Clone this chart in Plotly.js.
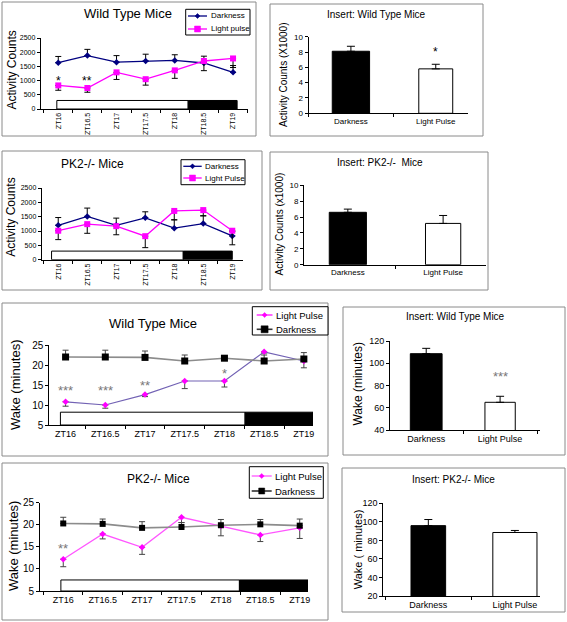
<!DOCTYPE html>
<html>
<head>
<meta charset="utf-8">
<script src="https://cdn.plot.ly/plotly-3.0.1.min.js"></script>
<style>html,body{margin:0;padding:0;background:#fff}#chart{width:567px;height:622px}</style>
</head>
<body>
<div id="chart"></div>
<script>
// ---------------- DATA ----------------
const zt = ['ZT16', 'ZT16.5', 'ZT17', 'ZT17.5', 'ZT18', 'ZT18.5', 'ZT19'];
const groups = ['Darkness', 'Light Pulse'];

// Activity counts, wild type
const wtActDark = [1630, 1880, 1650, 1690, 1710, 1620, 1290];
const wtActDarkErr = [220, 220, 230, 240, 200, 240, 240];
const wtActLight = [830, 740, 1290, 1050, 1360, 1690, 1780];
const wtActLightErr = [170, 150, 250, 210, 280, 340, 320];

// Activity counts, PK2-/-
const pk2ActDark = [1200, 1510, 1200, 1460, 1100, 1260, 830];
const pk2ActDarkErr = [270, 290, 250, 210, 290, 270, 150];
const pk2ActLight = [1010, 1240, 1170, 820, 1700, 1730, 1010];
const pk2ActLightErr = [310, 320, 300, 400, 310, 200, 490];

// Insert bars, activity (x1000)
const wtActBar = [8.1, 5.8];
const wtActBarErr = [0.65, 0.6];
const pk2ActBar = [6.6, 5.2];
const pk2ActBarErr = [0.4, 1.0];

// Wake minutes, wild type
const wtWakeDark = [22.0, 22.0, 21.9, 21.0, 21.7, 21.0, 21.5];
const wtWakeDarkErr = [1.7, 1.7, 1.6, 1.5, 0.3, 1.5, 1.6];
const wtWakeLight = [10.8, 10.0, 12.6, 16.0, 16.0, 23.3, 21.0];
const wtWakeLightErr = [1.1, 0.8, 0.5, 1.9, 1.5, 0.3, 1.7];

// Wake minutes, PK2-/-
const pk2WakeDark = [20.3, 20.2, 19.3, 19.5, 19.9, 20.1, 19.8];
const pk2WakeDarkErr = [1.4, 1.1, 1.4, 1.0, 1.3, 1.1, 1.5];
const pk2WakeLight = [12.2, 17.9, 14.9, 21.7, 19.7, 17.7, 19.3];
const pk2WakeLightErr = [1.7, 1.1, 1.6, 1.2, 2.2, 1.5, 2.4];

// Insert bars, wake minutes
const wtWakeBar = [108.6, 64.9];
const wtWakeBarErr = [4.8, 5.4];
const pk2WakeBar = [95.9, 88.5];
const pk2WakeBarErr = [6.6, 2.2];

// ---------------- LAYOUT HELPERS ----------------
const W = 567, H = 622;
const FONT = 'Liberation Sans, Arial, sans-serif';
const sfx = n => (n === 1 ? '' : String(n));
const PX = x => x / W, PY = y => 1 - y / H;
const layout = {
  width: W, height: H,
  margin: {l: 0, r: 0, t: 0, b: 0},
  paper_bgcolor: 'white', plot_bgcolor: 'rgba(0,0,0,0)',
  font: {family: FONT, color: 'black'},
  showlegend: false,
  shapes: [], annotations: []
};
const traces = [];

function catAxis(n, x0, x1, range, size, extra) {
  layout['xaxis' + sfx(n)] = Object.assign({
    domain: [PX(x0), PX(x1)], type: 'category', range: range,
    anchor: 'y' + sfx(n), showline: true, linecolor: 'black', linewidth: 1,
    ticks: 'outside', ticklen: 3, tickcolor: 'black', tickson: 'boundaries',
    showgrid: false, zeroline: false, fixedrange: true,
    tickfont: {size: size, color: 'black', family: FONT}
  }, extra || {});
}
function valAxis(n, top, bottom, range, dtick, size) {
  layout['yaxis' + sfx(n)] = {
    domain: [PY(bottom), PY(top)], range: range, dtick: dtick,
    anchor: 'x' + sfx(n), showline: true, linecolor: 'black', linewidth: 1,
    ticks: 'outside', ticklen: 3, tickcolor: 'black',
    showgrid: false, zeroline: false, fixedrange: true,
    tickfont: {size: size, color: 'black', family: FONT}
  };
}
function frame(x0, y0, x1, y1) {
  layout.shapes.push({type: 'rect', xref: 'paper', yref: 'paper', layer: 'below',
    x0: PX(x0), x1: PX(x1), y0: PY(y1), y1: PY(y0),
    line: {color: '#8a8a8a', width: 1}, fillcolor: 'rgba(0,0,0,0)'});
}
function label(text, x, y, size, extra) {
  layout.annotations.push(Object.assign({text: text, xref: 'paper', yref: 'paper',
    x: PX(x), y: PY(y), showarrow: false, xanchor: 'center', yanchor: 'middle',
    font: {size: size, family: FONT, color: 'black'}}, extra || {}));
}
function yTitle(text, x, y, size) { label(text, x, y, size, {textangle: -90}); }
function star(n, text, xi, yv, size, color) {
  layout.annotations.push({text: text, xref: 'x' + sfx(n), yref: 'y' + sfx(n),
    x: xi, y: yv, showarrow: false, xanchor: 'center', yanchor: 'middle',
    font: {size: size, family: FONT, color: color}});
}
function dayNight(n, a, b, c, top, base) {
  layout.shapes.push({type: 'rect', xref: 'x' + sfx(n), yref: 'y' + sfx(n), layer: 'below',
    x0: a, x1: b, y0: base, y1: top, fillcolor: 'white', line: {color: 'black', width: 1}});
  layout.shapes.push({type: 'rect', xref: 'x' + sfx(n), yref: 'y' + sfx(n), layer: 'below',
    x0: b, x1: c, y0: base, y1: top, fillcolor: 'black', line: {color: 'black', width: 1}});
}
function lineTrace(n, name, y, plus, minus, style) {
  traces.push({
    type: 'scatter', mode: 'lines+markers', name: name, x: zt, y: y,
    xaxis: 'x' + sfx(n), yaxis: 'y' + sfx(n), cliponaxis: false,
    line: {color: style.line, width: style.lw},
    marker: {symbol: style.symbol, size: style.size, color: style.marker},
    error_y: {type: 'data', symmetric: false, array: plus, arrayminus: minus,
      color: style.err, thickness: 1, width: 3}
  });
}
function barTrace(n, y, err, widths) {
  traces.push({
    type: 'bar', x: groups, y: y, xaxis: 'x' + sfx(n), yaxis: 'y' + sfx(n),
    width: widths,
    marker: {color: ['black', 'white'], line: {color: 'black', width: 1}},
    error_y: {type: 'data', symmetric: false, array: err, arrayminus: err.map(() => 0),
      color: 'black', thickness: 1, width: 4}
  });
}
const zeros = zt.map(() => 0);

// Compact Excel-style legend box
function legendBox(box, rows, size) {
  layout.shapes.push({type: 'rect', xref: 'paper', yref: 'paper', layer: 'above',
    x0: PX(box[0]), x1: PX(box[2]), y0: PY(box[3]), y1: PY(box[1]),
    line: {color: 'black', width: 1}, fillcolor: 'white'});
  rows.forEach(r => {
    const st = r.style;
    layout.shapes.push({type: 'line', xref: 'paper', yref: 'paper', layer: 'above',
      x0: PX(r.x0), x1: PX(r.x1), y0: PY(r.y), y1: PY(r.y),
      line: {color: st.legLine || st.line, width: st.lw}});
    const s = st.size / 2;
    const mx = (r.x0 + r.x1) / 2, my = r.y;
    let path;
    if (st.symbol === 'square') {
      path = `M${PX(mx - s)},${PY(my - s)} L${PX(mx + s)},${PY(my - s)} L${PX(mx + s)},${PY(my + s)} L${PX(mx - s)},${PY(my + s)} Z`;
    } else {
      path = `M${PX(mx)},${PY(my - s)} L${PX(mx + s)},${PY(my)} L${PX(mx)},${PY(my + s)} L${PX(mx - s)},${PY(my)} Z`;
    }
    layout.shapes.push({type: 'path', xref: 'paper', yref: 'paper', layer: 'above', path: path,
      fillcolor: st.marker, line: {color: st.marker, width: 0.5}});
    label(r.name, r.tx, r.y, size, {xanchor: 'left'});
  });
}

const navy = {line: '#000080', lw: 1.3, symbol: 'diamond', size: 5, marker: '#000080', err: 'black'};
const mag = {line: '#ff00ff', lw: 1.3, symbol: 'square', size: 6, marker: '#ff00ff', err: 'black'};
const purp = {line: '#7262b4', legLine: '#ff00ff', lw: 1.2, symbol: 'diamond', size: 5, marker: '#ff00ff', err: '#444'};
const blk = {line: '#8c8c8c', legLine: '#333', lw: 1.6, symbol: 'square', size: 7, marker: 'black', err: '#444'};
const mag2 = {line: '#ff55ff', lw: 1.3, symbol: 'diamond', size: 5, marker: '#ff00ff', err: '#444'};
const blk2 = {line: '#8c8c8c', legLine: '#333', lw: 1.6, symbol: 'square', size: 6, marker: 'black', err: '#444'};

// ---------------- PANEL 1: WT activity ----------------
frame(2, 2, 256, 136);
catAxis(1, 40.8, 247.6, [-0.6, 6.5], 7, {tickangle: -90});
valAxis(1, 38, 109, [0, 2500], 500, 7);
label('Wild Type Mice', 128, 13, 13);
yTitle('Activity Counts', 11.5, 70, 12);
lineTrace(1, 'Darkness', wtActDark, wtActDarkErr, zeros, navy);
lineTrace(1, 'Light pulse', wtActLight, zeros, wtActLightErr, mag);
dayNight(1, -0.05, 4.46, 6.14, 300, 0);
star(1, '*', 0, 1000, 12, 'black');
star(1, '**', 1, 1000, 12, 'black');
legendBox([185.7, 9.3, 250, 35], [
  {name: 'Darkness', y: 16, x0: 188, x1: 207, tx: 209, style: navy},
  {name: 'Light pulse', y: 29, x0: 188, x1: 207, tx: 209, style: mag}
], 8);

// ---------------- PANEL 2: WT activity insert ----------------
frame(270, 4, 483, 136);
catAxis(2, 308.5, 468, [-0.5, 1.38], 8);
valAxis(2, 36.7, 113.3, [0, 10], 2, 8);
label('Insert: Wild Type Mice', 376, 15, 10);
yTitle('Activity Counts (X1000)', 283, 75, 10);
barTrace(2, wtActBar, wtActBarErr, [0.44, 0.4]);
star(2, '*', 1, 8.0, 12, 'black');

// ---------------- PANEL 3: PK2 activity ----------------
frame(2, 151, 262, 290);
catAxis(3, 41.7, 243, [-0.57, 6.37], 7, {tickangle: -90});
valAxis(3, 188, 259.7, [0, 2500], 500, 7);
label('PK2-/- Mice', 92, 164, 12);
yTitle('Activity Counts', 11, 217.7, 12);
lineTrace(3, 'Darkness', pk2ActDark, pk2ActDarkErr, zeros, navy);
lineTrace(3, 'Light Pulse', pk2ActLight, zeros, pk2ActLightErr, mag);
dayNight(3, -0.23, 4.31, 6.0, 300, 0);
legendBox([181, 159.7, 245, 184.7], [
  {name: 'Darkness', y: 166.3, x0: 183.3, x1: 201.7, tx: 202.7, style: navy},
  {name: 'Light Pulse', y: 178, x0: 183.3, x1: 201.7, tx: 202.7, style: mag}
], 8);

// ---------------- PANEL 4: PK2 activity insert ----------------
frame(270, 152, 488, 290);
catAxis(4, 304, 486, [-0.46, 1.45], 8);
valAxis(4, 185.3, 264.7, [0, 10], 2, 8);
label('Insert: PK2-/-  Mice', 379.7, 163, 10);
yTitle('Activity Counts (x1000)', 279.7, 223.8, 10);
barTrace(4, pk2ActBar, pk2ActBarErr, [0.39, 0.37]);

// ---------------- PANEL 5: WT wake ----------------
frame(2, 303, 328, 456);
catAxis(5, 49.3, 313, [-0.41, 6.23], 9);
valAxis(5, 345, 425, [5, 25], 5, 10);
label('Wild Type Mice', 153, 323, 13);
yTitle('Wake (minutes)', 15, 385, 13);
lineTrace(5, 'Light Pulse', wtWakeLight, zeros, wtWakeLightErr, purp);
lineTrace(5, 'Darkness', wtWakeDark, wtWakeDarkErr, zeros, blk);
dayNight(5, -0.13, 4.52, 6.23, 8.2, 5);
star(5, '***', 0, 13.6, 13, '#777');
star(5, '***', 1, 13.6, 13, '#777');
star(5, '**', 2, 15.0, 13, '#777');
star(5, '*', 4, 17.8, 13, '#777');
legendBox([252.3, 306.7, 328, 335], [
  {name: 'Light Pulse', y: 315, x0: 256.7, x1: 272.5, tx: 274, style: purp},
  {name: 'Darkness', y: 329.3, x0: 256.7, x1: 272.5, tx: 274, style: blk}
], 9.5);

// ---------------- PANEL 6: WT wake insert ----------------
frame(343, 307, 565, 455);
catAxis(6, 390, 540, [-0.49, 1.54], 9);
valAxis(6, 341, 430, [40, 120], 20, 9);
label('Insert: Wild Type Mice', 455, 316.7, 10);
yTitle('Wake (minutes)', 358.3, 383.3, 12);
barTrace(6, wtWakeBar, wtWakeBarErr, [0.43, 0.41]);
star(6, '***', 1, 88, 13, '#777');

// ---------------- PANEL 7: PK2 wake ----------------
frame(2, 463, 328, 620);
catAxis(7, 40, 308, [-0.59, 6.21], 9);
valAxis(7, 502.7, 591, [5, 25], 5, 10);
label('PK2-/- Mice', 158, 479, 12);
yTitle('Wake (minutes)', 13.3, 545.8, 13);
lineTrace(7, 'Light Pulse', pk2WakeLight, zeros, pk2WakeLightErr, mag2);
lineTrace(7, 'Darkness', pk2WakeDark, pk2WakeDarkErr, zeros, blk2);
dayNight(7, -0.06, 4.47, 6.22, 7.5, 5);
star(7, '**', 0, 14.7, 13, '#777');
legendBox([249.3, 466.7, 323.3, 498.3], [
  {name: 'Light Pulse', y: 476, x0: 251.7, x1: 271.7, tx: 273, style: mag2},
  {name: 'Darkness', y: 491, x0: 251.7, x1: 271.7, tx: 273, style: blk2}
], 9.5);

// ---------------- PANEL 8: PK2 wake insert ----------------
frame(342, 468, 565, 612);
catAxis(8, 383.3, 540, [-0.52, 1.29], 9);
valAxis(8, 503.3, 596, [20, 120], 20, 9);
label('Insert: PK2-/- Mice', 453, 480, 10);
yTitle('Wake ( minutes)', 358.3, 549, 11);
barTrace(8, pk2WakeBar, pk2WakeBarErr, [0.4, 0.51]);

Plotly.newPlot('chart', traces, layout, {staticPlot: true, displayModeBar: false});
</script>
</body>
</html>
